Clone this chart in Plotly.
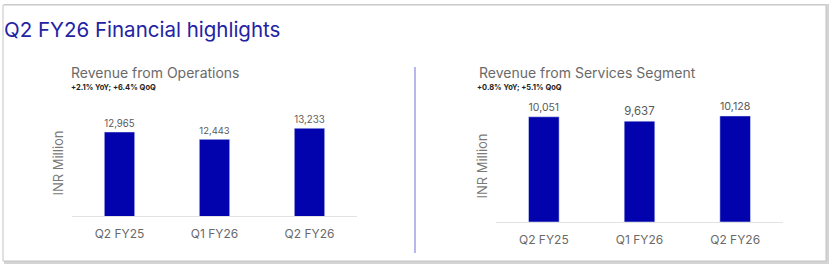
import plotly.graph_objects as go

categories = ["Q2 FY25", "Q1 FY26", "Q2 FY26"]
ops_values = [12965, 12443, 13233]
svc_values = [10051, 9637, 10128]
ops_labels = ["12,965", "12,443", "13,233"]
svc_labels = ["10,051", "9,637", "10,128"]

W, H = 833, 268
BAR = "#0303AE"
FONT = "Inter"

def px(x):
    return x / W

def py(y):
    return (H - y) / H

fig = go.Figure()
fig.add_trace(go.Bar(x=categories, y=ops_values, text=ops_labels, textposition="outside",
                     marker_color=BAR, xaxis="x", yaxis="y", cliponaxis=False,
                     textfont=dict(size=12, color="#5a5a5a", family=FONT)))
fig.add_trace(go.Bar(x=categories, y=svc_values, text=svc_labels, textposition="outside",
                     marker_color=BAR, xaxis="x2", yaxis="y2", cliponaxis=False,
                     textfont=dict(size=12, color="#5a5a5a", family=FONT)))

axis_common = dict(showgrid=False, zeroline=False, ticks="", showline=True,
                   linecolor="#e2e2e2", linewidth=1, ticklabelstandoff=7,
                   tickfont=dict(size=12, color="#6a6a6a", family=FONT))
yaxis_common = dict(showgrid=False, zeroline=False, showticklabels=False, showline=False,
                    title=dict(text="INR Million", font=dict(size=13, color="#7a7a7a", family=FONT), standoff=4))

fig.update_layout(
    width=W, height=H, margin=dict(l=0, r=0, t=0, b=0),
    paper_bgcolor="white", plot_bgcolor="rgba(0,0,0,0)",
    showlegend=False, bargap=0.68,
    xaxis=dict(domain=[px(72), px(357)], anchor="y", **axis_common),
    yaxis=dict(domain=[py(216), py(110)], range=[7000, 14528], anchor="x", **yaxis_common),
    xaxis2=dict(domain=[px(496), px(783)], anchor="y2", **axis_common),
    yaxis2=dict(domain=[py(222), py(110)], range=[0, 10700], anchor="x2", **yaxis_common),
)

shapes = [
    # shadow
    dict(type="rect", xref="paper", yref="paper", x0=px(4), x1=px(829), y0=py(264), y1=py(4),
         line=dict(width=0), fillcolor="#d4d4d4", layer="below"),
    dict(type="rect", xref="paper", yref="paper", x0=px(3), x1=px(826), y0=py(261), y1=py(5),
         line=dict(width=1, color="#c4c4c4"), fillcolor="white", layer="below"),
    # separator
    dict(type="line", xref="paper", yref="paper", x0=px(415), x1=px(415), y0=py(253), y1=py(67),
         line=dict(width=1.5, color="#9f9fe6")),
]
fig.update_layout(shapes=shapes)

annotations = [
    dict(text="Q2 FY26 Financial highlights", x=px(2), y=py(29), xanchor="left", yanchor="middle",
         font=dict(size=20.5, color="#2323A3", family=FONT)),
    dict(text="Revenue from Operations", x=px(69), y=py(72), xanchor="left", yanchor="middle",
         font=dict(size=14, color="#6a6a6a", family=FONT)),
    dict(text="<b>+2.1% YoY; +6.4% QoQ</b>", x=px(69), y=py(88), xanchor="left", yanchor="middle",
         font=dict(size=7.5, color="#222222", family=FONT)),
    dict(text="Revenue from Services Segment", x=px(477), y=py(73), xanchor="left", yanchor="middle",
         font=dict(size=14, color="#6a6a6a", family=FONT)),
    dict(text="<b>+0.8% YoY; +5.1% QoQ</b>", x=px(475), y=py(88), xanchor="left", yanchor="middle",
         font=dict(size=7.5, color="#222222", family=FONT)),
]
for a in annotations:
    a.update(xref="paper", yref="paper", showarrow=False)
fig.update_layout(annotations=annotations)

fig.write_html("out.html")
